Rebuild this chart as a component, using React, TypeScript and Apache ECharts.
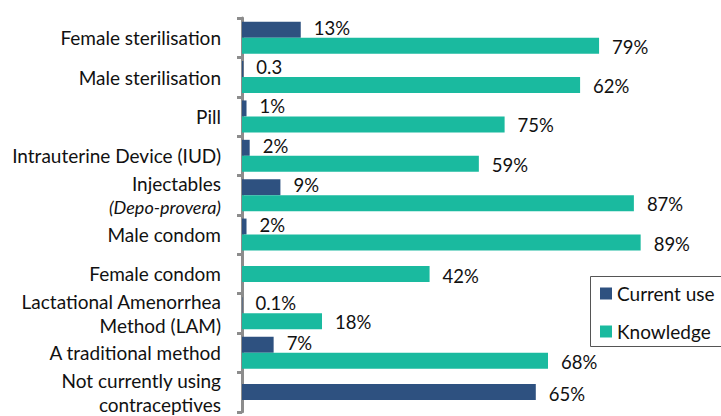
import React, { useEffect, useRef } from "react";
import * as echarts from "echarts";

const categories = [
  "Female sterilisation",
  "Male sterilisation",
  "Pill",
  "Intrauterine Device (IUD)",
  "Injectables\n(Depo-provera)",
  "Male condom",
  "Female condom",
  "Lactational Amenorrhea\nMethod (LAM)",
  "A traditional method",
  "Not currently using\ncontraceptives",
];

// bar lengths as drawn in the reference (percent scale)
const currentUse: (number | null)[] = [13, 0.3, 1, 1.7, 8.5, 1, null, 0.1, 7, 65];
const currentUseLabels = ["13%", "0.3", "1%", "2%", "9%", "2%", "", "0.1%", "7%", "65%"];
const knowledge: (number | null)[] = [79, 74.8, 58.1, 52.4, 86.7, 88.2, 41.5, 17.7, 67.7, null];
const knowledgeLabels = ["79%", "62%", "75%", "59%", "87%", "89%", "42%", "18%", "68%", ""];

const FONT = "Lato";
const BLUE = "#2E5180";
const TEAL = "#1ABA9F";

export default function App() {
  const ref = useRef<HTMLDivElement>(null);
  useEffect(() => {
    if (!ref.current) return;
    const chart = echarts.init(ref.current, null, { renderer: "svg" });

    const both = (i: number) => currentUse[i] != null && knowledge[i] != null;
    const pairedCurrent = currentUse.map((v, i) => (both(i) ? v : null));
    const pairedKnowledge = knowledge.map((v, i) => (both(i) ? v : null));
    const single = categories.map((_, i) => {
      if (both(i)) return null;
      if (currentUse[i] != null)
        return { value: currentUse[i], itemStyle: { color: BLUE }, lbl: currentUseLabels[i] };
      if (knowledge[i] != null)
        return { value: knowledge[i], itemStyle: { color: TEAL }, lbl: knowledgeLabels[i] };
      return null;
    });

    const labelBase = {
      show: true,
      position: "right",
      distance: 13,
      color: "#111",
      fontSize: 18.5,
      fontFamily: FONT,
    };

    const yAxisBase = {
      type: "category",
      inverse: true,
      data: categories,
    };

    chart.setOption({
      animation: false,
      backgroundColor: "#ffffff",
      textStyle: { fontFamily: FONT },
      grid: { left: 242, top: 18, width: 452, bottom: 3, containLabel: false },
      xAxis: {
        type: "value",
        min: 0,
        max: 100,
        show: false,
      },
      yAxis: [
        {
          ...yAxisBase,
          axisLine: { show: true, lineStyle: { color: "#8c8c8c", width: 3 } },
          axisTick: { show: true, length: 5, lineStyle: { color: "#8c8c8c", width: 3 } },
          axisLabel: {
            color: "#111",
            fontSize: 19,
            fontFamily: FONT,
            margin: 21,
            lineHeight: 24,
            formatter: (v: string) =>
              v.indexOf("(Depo-provera)") >= 0
                ? v.replace("(Depo-provera)", "{i|(Depo-provera)}")
                : v,
            rich: {
              i: { fontStyle: "italic", fontSize: 18, lineHeight: 24, color: "#111", fontFamily: FONT },
            },
          },
          splitLine: { show: false },
        },
        {
          ...yAxisBase,
          show: false,
        },
      ],
      legend: {
        orient: "vertical",
        left: 595,
        top: 279,
        itemWidth: 12,
        itemHeight: 12,
        itemGap: 19,
        icon: "rect",
        textStyle: { fontSize: 19, color: "#111", fontFamily: FONT },
        data: ["Current use", "Knowledge"],
      },
      graphic: [
        {
          type: "rect",
          shape: { x: 590.5, y: 276.5, width: 140, height: 70 },
          style: { fill: "none", stroke: "#555", lineWidth: 1 },
          z: 10,
        },
      ],
      series: [
        {
          name: "Current use",
          type: "bar",
          yAxisIndex: 0,
          data: pairedCurrent,
          barWidth: 16,
          barGap: "0%",
          itemStyle: { color: BLUE },
          label: {
            ...labelBase,
            offset: [0, -2],
            formatter: (p: any) => currentUseLabels[p.dataIndex],
          },
        },
        {
          name: "Knowledge",
          type: "bar",
          yAxisIndex: 0,
          data: pairedKnowledge,
          barWidth: 16,
          barGap: "0%",
          itemStyle: { color: TEAL },
          label: {
            ...labelBase,
            offset: [0, 1],
            formatter: (p: any) => knowledgeLabels[p.dataIndex],
          },
        },
        {
          name: "single",
          type: "bar",
          yAxisIndex: 1,
          data: single,
          barWidth: 16,
          label: {
            ...labelBase,
            offset: [0, 2],
            formatter: (p: any) => (p.data && p.data.lbl) || "",
          },
        },
      ],
    });
    return () => chart.dispose();
  }, []);
  return (
    <div
      ref={ref}
      style={{ position: "fixed", left: 0, top: 0, width: 721, height: 416, background: "#fff" }}
    />
  );
}
